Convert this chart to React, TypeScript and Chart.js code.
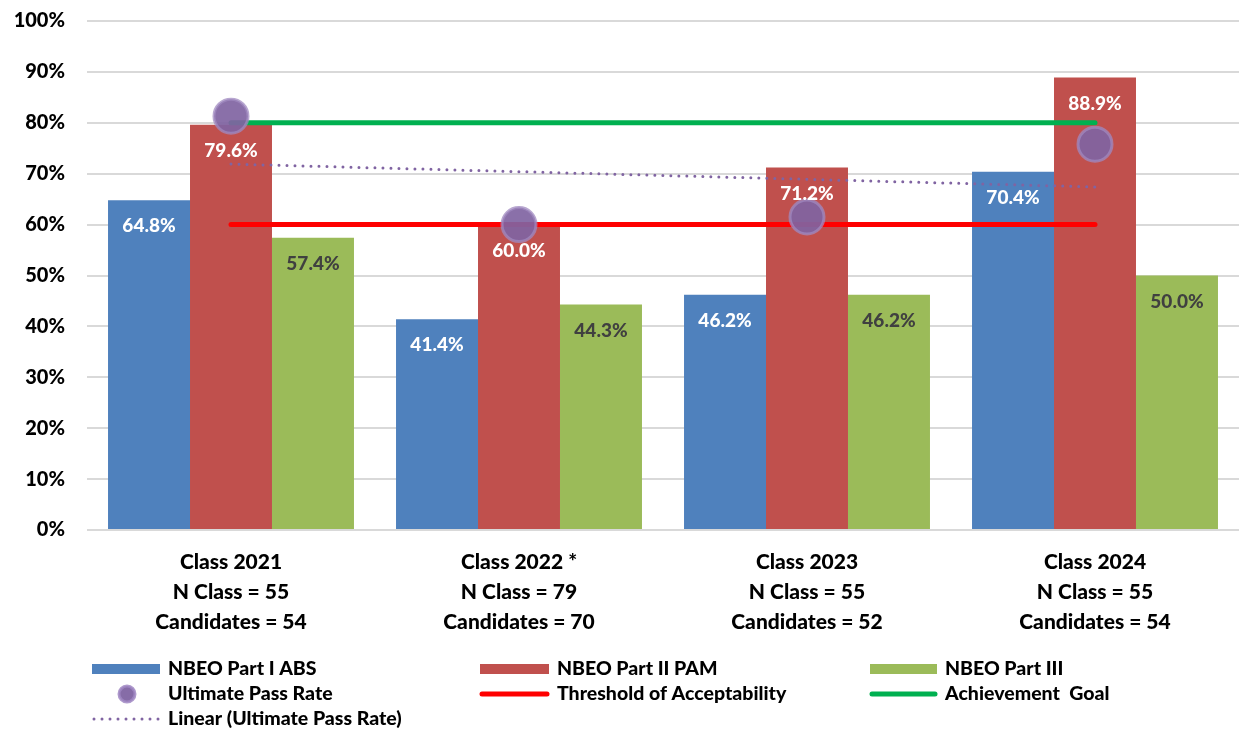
import React, { useEffect, useRef } from "react";
import { Chart, registerables } from "chart.js";

Chart.register(...registerables);

const categories: string[][] = [
  ["Class 2021", "N Class = 55", "Candidates = 54"],
  ["Class 2022 *", "N Class = 79", "Candidates = 70"],
  ["Class 2023", "N Class = 55", "Candidates = 52"],
  ["Class 2024", "N Class = 55", "Candidates = 54"],
];
const partI = [64.8, 41.4, 46.2, 70.4];
const partII = [79.6, 60.0, 71.2, 88.9];
const partIII = [57.4, 44.3, 46.2, 50.0];
const ultimatePassRate = [81.3, 60.0, 61.5, 75.8];
const threshold = [60, 60, 60, 60];
const goal = [80, 80, 80, 80];
const yTicks = [0, 10, 20, 30, 40, 50, 60, 70, 80, 90, 100];

function linearTrend(vals: number[]): number[] {
  const n = vals.length;
  const mx = (n - 1) / 2;
  const my = vals.reduce((a, b) => a + b, 0) / n;
  let num = 0;
  let den = 0;
  vals.forEach((v, i) => {
    num += (i - mx) * (v - my);
    den += (i - mx) * (i - mx);
  });
  const slope = num / den;
  return vals.map((_, i) => my + slope * (i - mx));
}
const trend = linearTrend(ultimatePassRate);

const BLUE = "#4F81BD";
const RED = "#C0504D";
const GREEN = "#9BBB59";
const PURPLE = "#8064A2";
const FONT = "Lato, 'Liberation Sans', sans-serif";
const W = "900";

const labelPlugin = {
  id: "barLabels",
  afterDatasetsDraw(chart: any) {
    const ctx = chart.ctx;
    ctx.save();
    ctx.font = `${W} 19px ${FONT}`;
    ctx.textAlign = "center";
    ctx.textBaseline = "middle";
    chart.data.datasets.forEach((ds: any, di: number) => {
      if (ds.type !== "bar") return;
      const meta = chart.getDatasetMeta(di);
      meta.data.forEach((bar: any, i: number) => {
        ctx.fillStyle = ds.labelColor;
        ctx.fillText(ds.data[i].toFixed(1) + "%", bar.x, bar.y + 26);
      });
    });
    ctx.restore();
  },
};

const legendPlugin = {
  id: "customLegend",
  afterDraw(chart: any) {
    const ctx = chart.ctx;
    ctx.save();
    ctx.font = `${W} 19.5px ${FONT}`;
    ctx.textBaseline = "middle";
    ctx.textAlign = "left";
    ctx.fillStyle = "#000";
    const rows = [669, 694, 719];
    const items: any[] = [
      { col: 0, row: 0, kind: "rect", color: BLUE, text: "NBEO Part I ABS" },
      { col: 1, row: 0, kind: "rect", color: RED, text: "NBEO Part II PAM" },
      { col: 2, row: 0, kind: "rect", color: GREEN, text: "NBEO Part III" },
      { col: 0, row: 1, kind: "circle", color: PURPLE, text: "Ultimate Pass Rate" },
      { col: 1, row: 1, kind: "line", color: "#FF0000", text: "Threshold of Acceptability" },
      { col: 2, row: 1, kind: "line", color: "#00B050", text: "Achievement  Goal" },
      { col: 0, row: 2, kind: "dots", color: PURPLE, text: "Linear (Ultimate Pass Rate)" },
    ];
    const cols = [
      { x0: 92, x1: 160, tx: 168 },
      { x0: 480, x1: 549, tx: 557 },
      { x0: 870, x1: 937, tx: 945 },
    ];
    items.forEach((it) => {
      const c = cols[it.col];
      const y = rows[it.row];
      if (it.kind === "rect") {
        ctx.fillStyle = it.color;
        ctx.fillRect(c.x0, y - 5, c.x1 - c.x0, 10);
      } else if (it.kind === "circle") {
        ctx.beginPath();
        ctx.arc(127, y, 8, 0, Math.PI * 2);
        ctx.fillStyle = "rgba(128,100,162,0.95)";
        ctx.fill();
        ctx.lineWidth = 3;
        ctx.strokeStyle = "rgba(160,135,195,0.85)";
        ctx.stroke();
      } else if (it.kind === "line") {
        ctx.beginPath();
        ctx.moveTo(c.x0 + 2, y);
        ctx.lineTo(c.x1 - 2, y);
        ctx.lineWidth = 5;
        ctx.lineCap = "round";
        ctx.strokeStyle = it.color;
        ctx.stroke();
      } else if (it.kind === "dots") {
        ctx.beginPath();
        ctx.setLineDash([0, 8]);
        ctx.moveTo(c.x0 + 2, y);
        ctx.lineTo(c.x1, y);
        ctx.lineWidth = 3;
        ctx.lineCap = "round";
        ctx.strokeStyle = it.color;
        ctx.stroke();
        ctx.setLineDash([]);
      }
      ctx.fillStyle = "#000";
      ctx.fillText(it.text, c.tx, y);
    });
    ctx.restore();
  },
};

export default function App() {
  const ref = useRef<HTMLCanvasElement | null>(null);
  useEffect(() => {
    if (!ref.current) return;
    const chart = new Chart(ref.current, {
      type: "bar",
      data: {
        labels: categories as any,
        datasets: [
          {
            type: "line",
            label: "Ultimate Pass Rate",
            data: ultimatePassRate,
            showLine: false,
            pointRadius: 17,
            pointHoverRadius: 17,
            pointBackgroundColor: "rgba(128,100,162,0.92)",
            pointBorderColor: "rgba(160,138,192,0.75)",
            pointBorderWidth: 3,
            order: 1,
          } as any,
          {
            type: "line",
            label: "Linear (Ultimate Pass Rate)",
            data: trend,
            borderColor: PURPLE,
            borderWidth: 3,
            borderDash: [0, 8],
            borderCapStyle: "round",
            pointRadius: 0,
            fill: false,
            order: 2,
          } as any,
          {
            type: "line",
            label: "Threshold of Acceptability",
            data: threshold,
            borderColor: "#FF0000",
            borderWidth: 5,
            borderCapStyle: "round",
            pointRadius: 0,
            fill: false,
            order: 3,
          } as any,
          {
            type: "line",
            label: "Achievement  Goal",
            data: goal,
            borderColor: "#00B050",
            borderWidth: 5,
            borderCapStyle: "round",
            pointRadius: 0,
            fill: false,
            order: 3,
          } as any,
          {
            type: "bar",
            label: "NBEO Part I ABS",
            data: partI,
            backgroundColor: BLUE,
            labelColor: "#FFFFFF",
            order: 5,
          } as any,
          {
            type: "bar",
            label: "NBEO Part II PAM",
            data: partII,
            backgroundColor: RED,
            labelColor: "#FFFFFF",
            order: 5,
          } as any,
          {
            type: "bar",
            label: "NBEO Part III",
            data: partIII,
            backgroundColor: GREEN,
            labelColor: "#404040",
            order: 5,
          } as any,
        ],
      },
      options: {
        animation: false,
        responsive: false,
        maintainAspectRatio: false,
        layout: { autoPadding: false, padding: { top: 21, right: 0, left: 0, bottom: 0 } },
        datasets: {
          bar: { categoryPercentage: 0.854, barPercentage: 1.0 },
        },
        plugins: {
          legend: { display: false },
          tooltip: { enabled: false },
        },
        scales: {
          x: {
            grid: { display: false },
            border: { display: false },
            ticks: {
              color: "#000",
              font: { family: FONT, size: 21, weight: W, lineHeight: 1.43 },
              padding: 9,
              maxRotation: 0,
              autoSkip: false,
            },
            afterFit: (s: any) => {
              s.height = 199;
              s.paddingLeft = 0;
              s.paddingRight = 0;
            },
          },
          y: {
            min: 0,
            max: 100,
            afterBuildTicks: (s: any) => {
              s.ticks = yTicks.map((v) => ({ value: v }));
            },
            grid: { color: "#D9D9D9", lineWidth: 2, drawTicks: false },
            border: { display: false },
            ticks: {
              color: "#000",
              font: { family: FONT, size: 20, weight: W },
              padding: 22,
              callback: (v: any) => v + "%",
            },
            afterFit: (s: any) => {
              s.width = 87;
              s.paddingTop = 0;
              s.paddingBottom = 0;
            },
          },
        },
      } as any,
      plugins: [labelPlugin, legendPlugin],
    });
    return () => chart.destroy();
  }, []);
  return (
    <div style={{ position: "fixed", left: 0, top: 0, width: 1239, height: 729, background: "#fff" }}>
      <canvas ref={ref} width={1239} height={729} style={{ width: 1239, height: 729 }} />
    </div>
  );
}
